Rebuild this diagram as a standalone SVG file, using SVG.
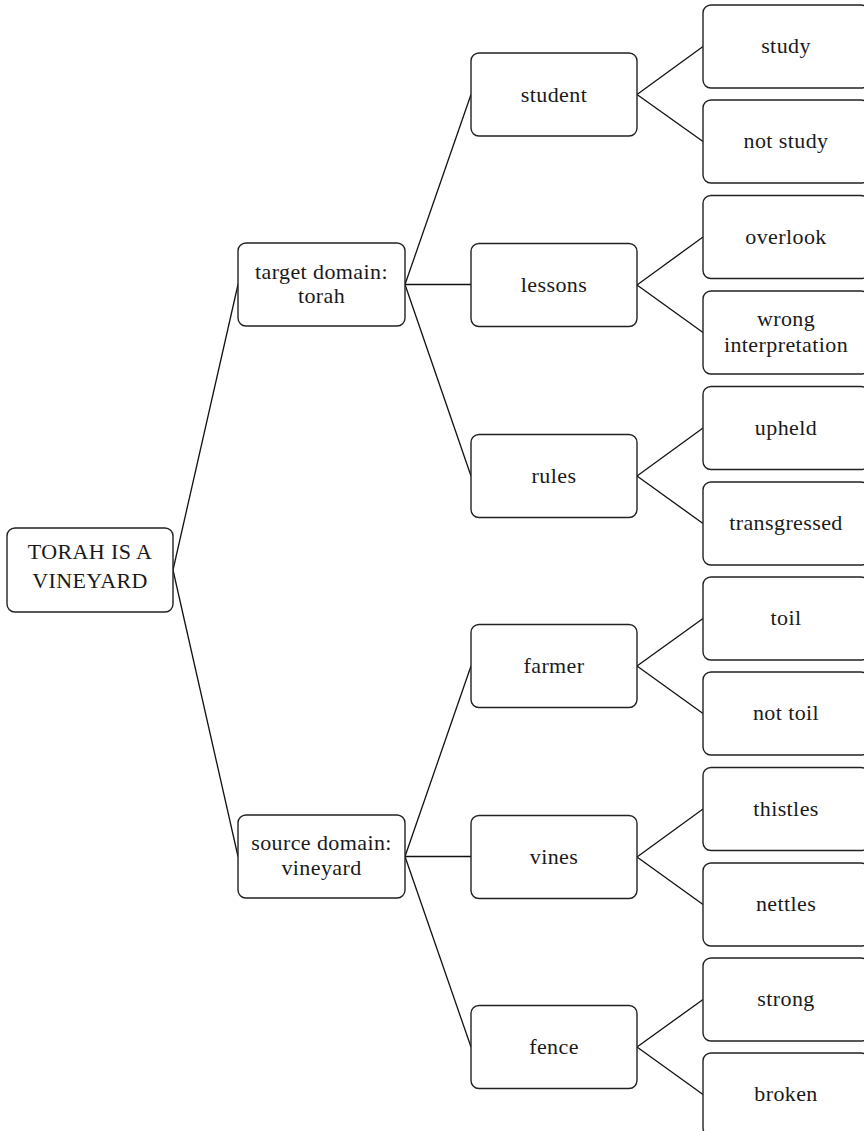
<svg xmlns="http://www.w3.org/2000/svg" width="864" height="1131" viewBox="0 0 864 1131">
<style>
rect{fill:#fff;stroke:#222;stroke-width:1.4}
text{font-family:"Liberation Serif",serif;font-size:22px;letter-spacing:0.4px;fill:#1a1a1a;text-anchor:middle}
#connectors line{stroke:#111;stroke-width:1.3}
</style>
<rect x="0" y="0" width="864" height="1131" style="stroke:none"/>
<g id="connectors">
<line x1="173" y1="570" x2="238" y2="284.5"/>
<line x1="173" y1="570" x2="238" y2="856.5"/>
<line x1="405" y1="284.5" x2="471" y2="94.5"/>
<line x1="405" y1="284.5" x2="471" y2="284.5"/>
<line x1="405" y1="284.5" x2="471" y2="476"/>
<line x1="405" y1="856.5" x2="471" y2="666"/>
<line x1="405" y1="856.5" x2="471" y2="856.5"/>
<line x1="405" y1="856.5" x2="471" y2="1047"/>
<line x1="637" y1="94.5" x2="703" y2="46.5"/>
<line x1="637" y1="94.5" x2="703" y2="141.5"/>
<line x1="637" y1="285" x2="703" y2="237"/>
<line x1="637" y1="285" x2="703" y2="332.5"/>
<line x1="637" y1="476" x2="703" y2="428"/>
<line x1="637" y1="476" x2="703" y2="523.5"/>
<line x1="637" y1="666" x2="703" y2="618.5"/>
<line x1="637" y1="666" x2="703" y2="713.5"/>
<line x1="637" y1="857" x2="703" y2="809"/>
<line x1="637" y1="857" x2="703" y2="904.5"/>
<line x1="637" y1="1047" x2="703" y2="999.5"/>
<line x1="637" y1="1047" x2="703" y2="1094.5"/>
</g>
<g id="root"><rect x="7" y="528" width="166" height="84" rx="8"/><text x="90" y="559">TORAH IS A</text><text x="90" y="588">VINEYARD</text></g>
<g id="target"><rect x="238" y="243" width="167" height="83" rx="8"/><text x="321.5" y="279">target domain:</text><text x="321.5" y="303">torah</text></g>
<g id="source"><rect x="238" y="815" width="167" height="83" rx="8"/><text x="321.5" y="850">source domain:</text><text x="321.5" y="875">vineyard</text></g>
<g id="student"><rect x="471" y="53" width="166" height="83" rx="8"/><text x="554" y="102">student</text></g>
<g id="lessons"><rect x="471" y="243.5" width="166" height="83" rx="8"/><text x="554" y="292">lessons</text></g>
<g id="rules"><rect x="471" y="434.5" width="166" height="83" rx="8"/><text x="554" y="483">rules</text></g>
<g id="farmer"><rect x="471" y="624.5" width="166" height="83" rx="8"/><text x="554" y="673">farmer</text></g>
<g id="vines"><rect x="471" y="815.5" width="166" height="83" rx="8"/><text x="554" y="864">vines</text></g>
<g id="fence"><rect x="471" y="1005.5" width="166" height="83" rx="8"/><text x="554" y="1054">fence</text></g>
<g id="study"><rect x="703" y="5" width="166" height="83" rx="8"/><text x="786" y="53">study</text></g>
<g id="not-study"><rect x="703" y="100" width="166" height="83" rx="8"/><text x="786" y="148">not study</text></g>
<g id="overlook"><rect x="703" y="195.5" width="166" height="83" rx="8"/><text x="786" y="243.5">overlook</text></g>
<g id="wrong-interpretation"><rect x="703" y="291" width="166" height="83" rx="8"/><text x="786" y="326">wrong</text><text x="786" y="352">interpretation</text></g>
<g id="upheld"><rect x="703" y="386.5" width="166" height="83" rx="8"/><text x="786" y="434.5">upheld</text></g>
<g id="transgressed"><rect x="703" y="482" width="166" height="83" rx="8"/><text x="786" y="530">transgressed</text></g>
<g id="toil"><rect x="703" y="577" width="166" height="83" rx="8"/><text x="786" y="625">toil</text></g>
<g id="not-toil"><rect x="703" y="672" width="166" height="83" rx="8"/><text x="786" y="720">not toil</text></g>
<g id="thistles"><rect x="703" y="767.5" width="166" height="83" rx="8"/><text x="786" y="815.5">thistles</text></g>
<g id="nettles"><rect x="703" y="863" width="166" height="83" rx="8"/><text x="786" y="911">nettles</text></g>
<g id="strong"><rect x="703" y="958" width="166" height="83" rx="8"/><text x="786" y="1006">strong</text></g>
<g id="broken"><rect x="703" y="1053" width="166" height="83" rx="8"/><text x="786" y="1101">broken</text></g>
</svg>
